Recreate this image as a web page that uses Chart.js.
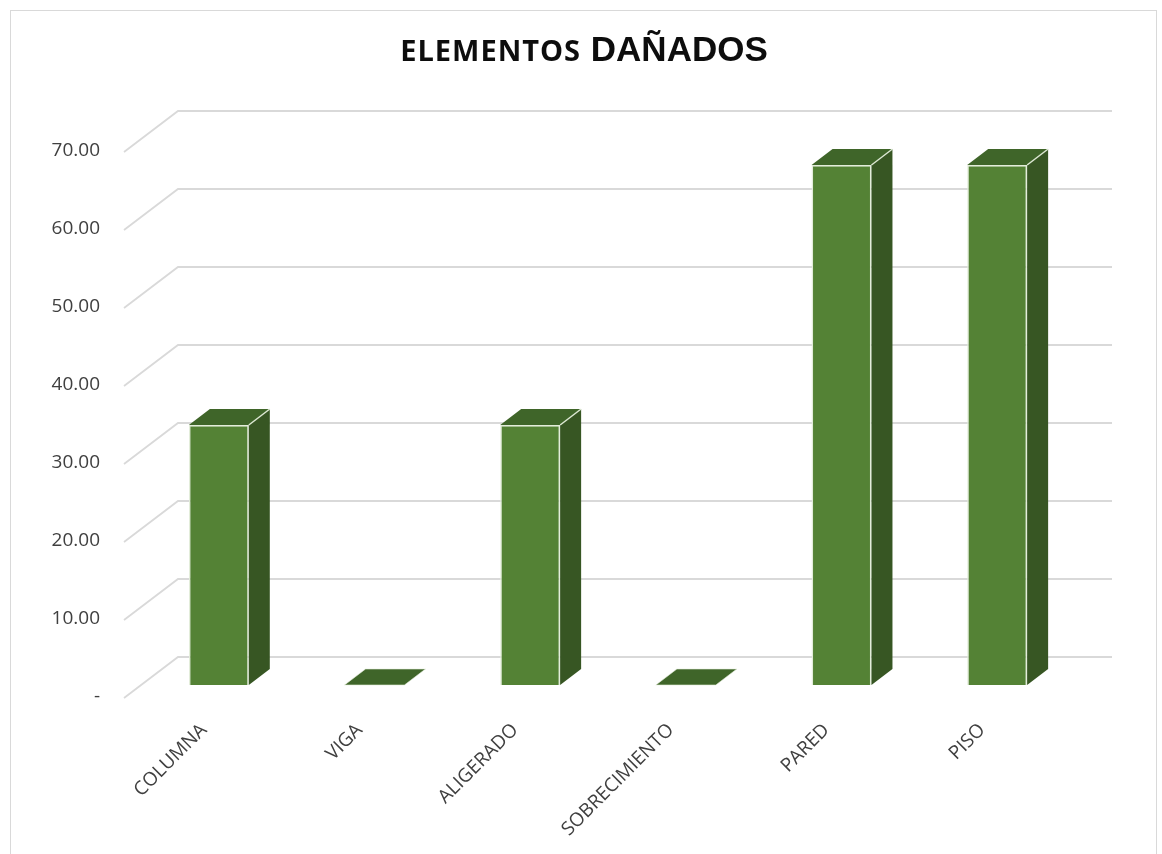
<!DOCTYPE html>
<html>
<head>
<meta charset="utf-8">
<script src="https://cdn.jsdelivr.net/npm/chart.js@4.4.1/dist/chart.umd.min.js"></script>
<style>
    body { margin: 0; background: #fff; }
    #wrap { position: relative; width: 1162px; height: 854px; }
    #frame { position: absolute; left: 10px; top: 10px; width: 1147px; height: 850px; border: 1.5px solid #d9d9d9; box-sizing: border-box; }
    #title { position: absolute; left: 0; top: 29px; width: 1168px; text-align: center; line-height: 40px; color: #0d0d0d;
             font-family: "Liberation Sans", Arial, sans-serif; font-weight: bold; font-size: 35px; }
    #title .a { font-family: "Open Sans", sans-serif; font-size: 29px; letter-spacing: 1px; }
    canvas { position: absolute; left: 0; top: 0; }
</style>
</head>
<body>
<div id="wrap">
    <div id="frame"></div>
    <canvas id="myChart" width="1162" height="854"></canvas>
    <div id="title"><span class="a">ELEMENTOS</span> DAÑADOS</div>
</div>
<script>
const categories = ['COLUMNA', 'VIGA', 'ALIGERADO', 'SOBRECIMIENTO', 'PARED', 'PISO'];
const values = [33.33, 0, 33.33, 0, 66.67, 66.67];
const yTickLabels = ['-', '10.00', '20.00', '30.00', '40.00', '50.00', '60.00', '70.00'];

// depth of the columns and of the back wall
const barDepth = { dx: 21, dy: -16 };
const wallDepth = { dx: 54, dy: -41 };

const frontColor = '#548235';
const topColor = '#3f6529';
const sideColor = '#375623';
const edgeColor = 'rgba(226,236,216,0.95)';

// slanted floor lines + horizontal lines on the back wall
const wallGrid = {
    id: 'wallGrid',
    beforeDatasetsDraw(chart) {
        const ctx = chart.ctx;
        const area = chart.chartArea;
        const y = chart.scales.y;
        ctx.save();
        ctx.strokeStyle = '#d9d9d9';
        ctx.lineWidth = 1.8;
        y.ticks.forEach(t => {
            const yb = y.getPixelForValue(t.value) - 28;
            const xb = area.left + 37;
            ctx.beginPath();
            ctx.moveTo(xb - wallDepth.dx, yb - wallDepth.dy);
            ctx.lineTo(xb, yb);
            ctx.lineTo(area.right + 37, yb);
            ctx.stroke();
        });
        ctx.restore();
    }
};

// top and side faces of each column
const columns3d = {
    id: 'columns3d',
    afterDatasetsDraw(chart) {
        const ctx = chart.ctx;
        const meta = chart.getDatasetMeta(0);
        ctx.save();
        ctx.lineJoin = 'round';
        meta.data.forEach(bar => {
            const p = bar.getProps(['x', 'y', 'base', 'width'], true);
            const l = p.x - p.width / 2;
            const r = p.x + p.width / 2;
            const top = p.y;
            const { dx, dy } = barDepth;

            // side
            if (p.base - top > 0.5) {
                ctx.beginPath();
                ctx.moveTo(r, top);
                ctx.lineTo(r + dx, top + dy);
                ctx.lineTo(r + dx, p.base + dy);
                ctx.lineTo(r, p.base);
                ctx.closePath();
                ctx.fillStyle = sideColor;
                ctx.fill();
            }

            // top
            ctx.beginPath();
            ctx.moveTo(l, top);
            ctx.lineTo(r, top);
            ctx.lineTo(r + dx, top + dy);
            ctx.lineTo(l + dx, top + dy);
            ctx.closePath();
            ctx.fillStyle = topColor;
            ctx.fill();

            ctx.strokeStyle = edgeColor;
            ctx.lineWidth = 1.5;
            if (p.base - top > 0.5) {
                ctx.beginPath();
                ctx.moveTo(r, top);
                ctx.lineTo(r + dx, top + dy);
                ctx.stroke();
            } else {
                ctx.strokeStyle = 'rgba(226,236,216,0.6)';
                ctx.lineWidth = 1;
                ctx.stroke();
            }
        });
        ctx.restore();
    }
};

const ctx = document.getElementById('myChart').getContext('2d');
new Chart(ctx, {
    type: 'bar',
    data: {
        labels: categories,
        datasets: [{
            data: values,
            backgroundColor: frontColor,
            borderColor: edgeColor,
            borderWidth: values.map(v => v > 0 ? 1.5 : 0),
            borderSkipped: 'bottom',
            categoryPercentage: 1,
            barPercentage: 0.385
        }]
    },
    options: {
        responsive: false,
        animation: false,
        layout: {
            padding: { top: 139, left: 49, right: 87, bottom: 9 }
        },
        plugins: {
            legend: { display: false },
            tooltip: { enabled: false }
        },
        scales: {
            x: {
                grid: { display: false, drawTicks: false },
                border: { display: false },
                ticks: {
                    color: '#404040',
                    font: { family: 'Open Sans', size: 19 },
                    minRotation: 45,
                    maxRotation: 45,
                    padding: 34,
                    labelOffset: -15,
                    autoSkip: false
                },
                afterFit: s => { s.height = 160; }
            },
            y: {
                min: 0,
                max: 70,
                grid: { display: false, drawTicks: false },
                border: { display: false },
                ticks: {
                    stepSize: 10,
                    color: '#404040',
                    font: { family: 'Open Sans', size: 19 },
                    padding: 41,
                    labelOffset: 12,
                    callback: (v, i) => yTickLabels[i]
                },
                afterFit: s => { s.width = 92; }
            }
        }
    },
    plugins: [wallGrid, columns3d]
});
</script>
</body>
</html>
